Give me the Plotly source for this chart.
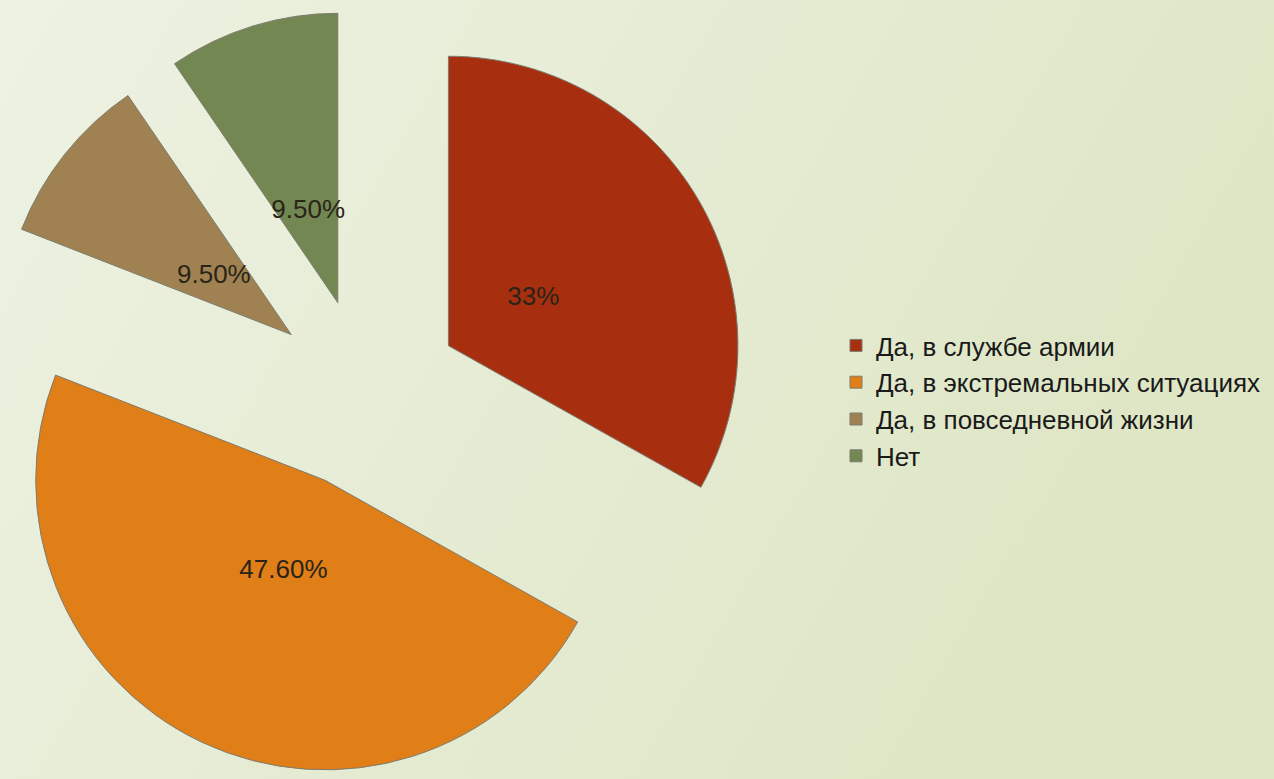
import numpy as np
import plotly.graph_objects as go

labels = ["Да, в службе армии", "Да, в экстремальных ситуациях", "Да, в повседневной жизни", "Нет"]
values = [33, 47.6, 9.5, 9.5]
text_labels = ["33%", "47.60%", "9.50%", "9.50%"]
colors = ["#A82E10", "#E07E17", "#A08252", "#738753"]

VIEW_W, VIEW_H = 1274, 779
SHIFT = 19                      # figure is drawn 19px wider and slid left so the pie can sit near the left edge
W, H = VIEW_W + SHIFT, VIEW_H
mt, mb, ml, mr = 9, 0, 0, 0
gw, gh = W - ml - mr, H - mt - mb
FONT = "Liberation Sans, Arial, sans-serif"
TEXT_SIZE = 26

PULL = 0.33
HALF = gh / 2.0                 # half-size of the square pie box
CX = ml + HALF                  # pie centre (figure px)
CY = mt + gh / 2.0
R = HALF / (1 + PULL)           # slice radius that plotly will use
D = PULL * R                    # explode distance
LABEL_FRAC = 0.34               # label distance from slice apex, in slice radii


def box_domain(half):
    x0 = (CX - ml - half) / gw
    x1 = (CX - ml + half) / gw
    y0 = 1 - (CY - mt + half) / gh
    y1 = 1 - (CY - mt - half) / gh
    return dict(x=[max(0, x0), min(1, x1)], y=[max(0, y0), min(1, y1)])


svg = ("data:image/svg+xml;utf8,<svg xmlns='http://www.w3.org/2000/svg' width='1293' height='779' "
       "preserveAspectRatio='none'>"
       "<defs><linearGradient id='g' x1='0' y1='0' x2='1' y2='0.35'>"
       "<stop offset='0' stop-color='%23EEF2E3'/><stop offset='1' stop-color='%23DEE6C5'/>"
       "</linearGradient></defs><rect width='1293' height='779' fill='url(%23g)'/></svg>")

fig = go.Figure()

# the exploded pie itself
fig.add_trace(go.Pie(
    labels=labels,
    values=values,
    textinfo="none",
    marker=dict(colors=colors, line=dict(color="#7d7d70", width=1)),
    pull=[PULL] * len(values),
    sort=False,
    direction="clockwise",
    rotation=0,
    hoverinfo="label+value",
    domain=box_domain(HALF),
    showlegend=True,
))

# label layers: transparent copies of the pie, sized so that each slice's
# horizontal label lands on its bisector at LABEL_FRAC * R from the apex
vals = np.array(values, dtype=float)
pad = vals.sum() * 0.0005       # tiny transparent remainder keeps the last slice off 12 o'clock
lab_vals = list(values) + [pad]
lab_names = [f"lbl{k}" for k in range(len(lab_vals))]
for i, txt in enumerate(text_labels):
    half_angle = np.pi * vals[i] / (vals.sum() + pad)
    s = np.sin(half_angle)
    r_ins = s / (1 + s)
    r2 = LABEL_FRAC * R / (1 - r_ins)
    p2 = D / r2
    texts = [""] * len(lab_vals)
    texts[i] = txt
    fig.add_trace(go.Pie(
        labels=lab_names,
        values=lab_vals,
        text=texts,
        textinfo="text",
        textposition="inside",
        insidetextorientation="horizontal",
        insidetextfont=dict(family=FONT, size=TEXT_SIZE, color="#2a2418"),
        marker=dict(colors=["rgba(0,0,0,0)"] * len(lab_vals), line=dict(width=0)),
        pull=[p2] * len(lab_vals),
        sort=False,
        direction="clockwise",
        rotation=0,
        hoverinfo="skip",
        showlegend=False,
        domain=box_domain(r2 + D),
    ))

fig.update_layout(
    width=W, height=H,
    margin=dict(l=ml, r=mr, t=mt, b=mb),
    paper_bgcolor="#E6ECD4",
    font=dict(family=FONT, color="#222222"),
    uniformtext=dict(minsize=TEXT_SIZE, mode="show"),
    showlegend=True,
    legend=dict(
        x=(836 + SHIFT) / W, xanchor="left",
        y=1 - (401 - mt) / gh, yanchor="middle",
        font=dict(family=FONT, size=26, color="#1a1a1a"),
        bgcolor="rgba(0,0,0,0)",
        traceorder="normal",
    ),
    images=[dict(
        source=svg, xref="paper", yref="paper",
        x=0, y=1 + mt / gh, sizex=1, sizey=1 + (mt + mb) / gh,
        xanchor="left", yanchor="top", sizing="stretch", layer="below",
    )],
)

fig.write_html(
    "out.html",
    config={"displayModeBar": False},
    post_script=(
        "document.body.style.margin='0px';"
        "document.body.style.overflow='hidden';"
        "document.getElementById('{plot_id}').style.marginLeft='-%dpx';" % SHIFT
    ),
)
